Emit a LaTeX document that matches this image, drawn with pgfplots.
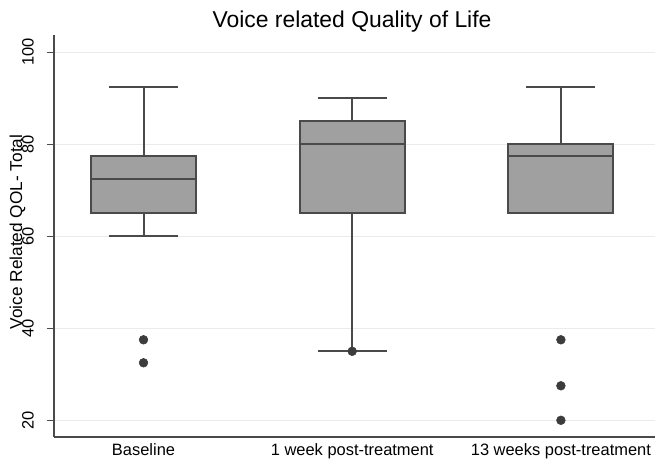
\documentclass[border=0pt]{standalone}
\usepackage{pgfplots}
\pgfplotsset{compat=1.18}
\usepgfplotslibrary{statistics}
\usepackage{fontspec}
\setmainfont{Liberation Sans}
\definecolor{boxfill}{HTML}{A0A0A0}
\definecolor{boxedge}{HTML}{4A4A4A}
\definecolor{gridc}{HTML}{EBEBEB}
\definecolor{dotc}{HTML}{3C3C3C}
\definecolor{axc}{HTML}{4A4A4A}
\begin{document}
\begin{tikzpicture}[x=1bp,y=1bp]
\useasboundingbox (0,0) rectangle (655,462);
\begin{axis}[
  at={(54bp,25bp)}, anchor=south west,
  scale only axis, width=601bp, height=402bp,
  xmin=-0.429, xmax=2.451, ymin=16.37, ymax=103.76,
  axis lines*=left,
  axis line style={-, draw=axc, line width=1.4bp},
  xtick={0,1,2},
  xticklabels={Baseline, 1 week post-treatment, 13 weeks post-treatment},
  xtick style={draw=none},
  ytick={20,40,60,80,100},
  tick align=outside,
  ytick style={draw=axc, line width=1.2bp},
  major tick length=7bp,
  ymajorgrids,
  major grid style={draw=gridc, line width=1.2bp},
  /pgf/number format/assume math mode=true,
  tick label style={font=\fontsize{16.5}{19}\selectfont, text=black},
  xticklabel style={inner sep=0pt, anchor=north, yshift=1bp},
  yticklabel style={xshift=-13bp, rotate=90, anchor=south, inner sep=0pt},
  boxplot/draw direction=y,
  boxplot/every box/.style={draw=boxedge, fill=boxfill, line width=2bp},
  boxplot/every whisker/.style={draw=boxedge, line width=2bp},
  boxplot/every median/.style={draw=boxedge, line width=2bp},
]
\addplot[boxplot prepared={median=72.5, upper quartile=77.5, lower quartile=65,
    upper whisker=92.5, lower whisker=60, draw position=0,
    box extend=0.504, whisker extend=0.331},
  draw=boxedge, fill=boxfill, line width=2bp,
  mark=*, mark size=4.4bp, mark options={draw=dotc, fill=dotc, line width=0.5bp}]
  table[row sep=\\, y index=0] {y\\ 37.5\\ 32.5\\};
\addplot[boxplot prepared={median=80, upper quartile=85, lower quartile=65,
    upper whisker=90, lower whisker=35, draw position=1,
    box extend=0.504, whisker extend=0.331},
  draw=boxedge, fill=boxfill, line width=2bp,
  mark=*, mark size=4.4bp, mark options={draw=dotc, fill=dotc, line width=0.5bp}]
  table[row sep=\\, y index=0] {y\\ 35\\};
\addplot[boxplot prepared={median=77.5, upper quartile=80, lower quartile=65,
    upper whisker=92.5, lower whisker=65, draw position=2,
    box extend=0.504, whisker extend=0.331},
  draw=boxedge, fill=boxfill, line width=2bp,
  mark=*, mark size=4.4bp, mark options={draw=dotc, fill=dotc, line width=0.5bp}]
  table[row sep=\\, y index=0] {y\\ 37.5\\ 27.5\\ 20\\};
\end{axis}
\node[font=\fontsize{23}{27}\selectfont] at (352,440) {Voice related Quality of Life};
\node[rotate=90, font=\fontsize{17.3}{20}\selectfont] at (17.5,230) {Voice Related QOL- Total};
\end{tikzpicture}
\end{document}
